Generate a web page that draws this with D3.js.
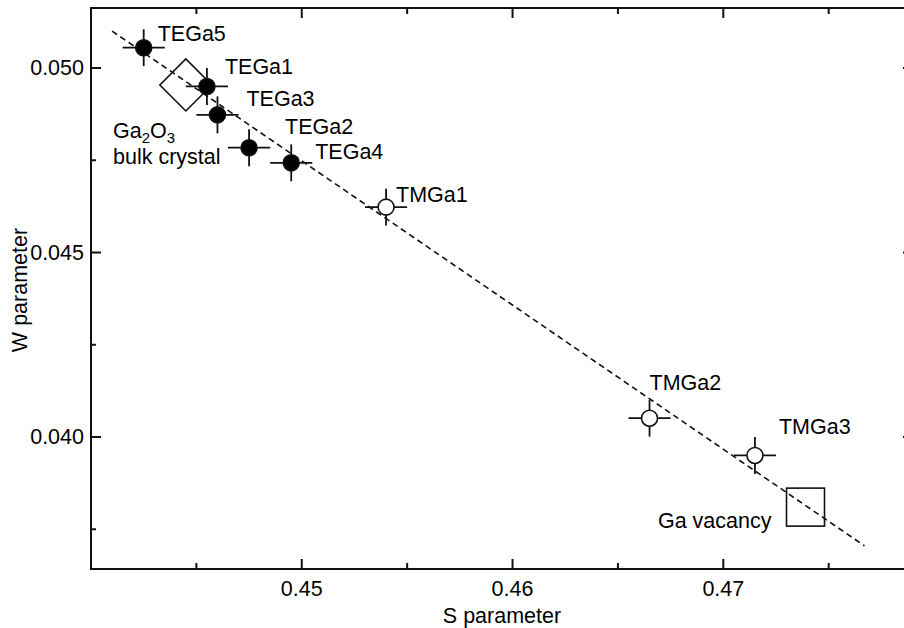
<!DOCTYPE html>
<html>
<head>
<meta charset="utf-8">
<script src="https://cdn.jsdelivr.net/npm/d3@7"></script>
<style>
  body { margin: 0; background: #fff; }
  text { font-family: "Liberation Sans", Arial, sans-serif; fill: #000; }
</style>
</head>
<body>
<svg id="chart" width="904" height="628"></svg>
<script>
// sample names, S and W parameters
const samples = ["TEGa5", "TEGa1", "TEGa3", "TEGa2", "TEGa4", "TMGa1", "TMGa2", "TMGa3"];
const sValues = [0.4425, 0.4455, 0.4460, 0.4475, 0.4495, 0.4540, 0.4665, 0.4715];
const wValues = [0.05055, 0.04950, 0.04873, 0.04784, 0.04743, 0.04623, 0.04051, 0.03950];
const filled  = [true, true, true, true, true, false, false, false];
const sErr = 0.001;
const wErr = 0.0005;

// reference points
const bulkS = 0.4445, bulkW = 0.04954;
const vacancyS = 0.4739, vacancyW = 0.0381;

// fitted dashed line end points
const fitS = [0.4410, 0.4767];
const fitW = [0.0510, 0.03705];

const xTicks = [0.45, 0.46, 0.47];
const yTicks = [0.040, 0.045, 0.050];

const svg = d3.select("#chart");
const mLeft = 91, mRight = 913, mTop = 8, mBottom = 569;

const x = d3.scaleLinear().domain([0.44, 0.479]).range([mLeft, mRight]);
const y = d3.scaleLinear().domain([0.036423, 0.051626]).range([mBottom, mTop]);

const font = 21.5;

// frame
svg.append("rect")
  .attr("x", mLeft).attr("y", mTop)
  .attr("width", mRight - mLeft).attr("height", mBottom - mTop)
  .attr("fill", "none").attr("stroke", "#111").attr("stroke-width", 2);

// ticks (inward, on all four sides)
const xMinor = [0.445, 0.455, 0.465, 0.475];
const yMinor = [0.0375, 0.0425, 0.0475];
const tickG = svg.append("g").attr("stroke", "#111").attr("stroke-width", 2);

function xticks(vals, len) {
  vals.forEach(v => {
    tickG.append("line").attr("x1", x(v)).attr("x2", x(v)).attr("y1", mBottom).attr("y2", mBottom - len);
    tickG.append("line").attr("x1", x(v)).attr("x2", x(v)).attr("y1", mTop).attr("y2", mTop + len);
  });
}
function yticks(vals, len) {
  vals.forEach(v => {
    tickG.append("line").attr("y1", y(v)).attr("y2", y(v)).attr("x1", mLeft).attr("x2", mLeft + len);
    tickG.append("line").attr("y1", y(v)).attr("y2", y(v)).attr("x1", mRight).attr("x2", mRight - len);
  });
}
xticks(xTicks, 10); xticks(xMinor, 6);
yticks(yTicks, 10); yticks(yMinor, 5);

// tick labels
svg.selectAll(".xl").data(xTicks).enter().append("text")
  .attr("x", d => x(d)).attr("y", 596)
  .attr("text-anchor", "middle").attr("font-size", font)
  .text(d => d3.format(".2f")(d));

svg.selectAll(".yl").data(yTicks).enter().append("text")
  .attr("x", 84).attr("y", d => y(d) + 7)
  .attr("text-anchor", "end").attr("font-size", font)
  .text(d => d3.format(".3f")(d));

// axis titles
svg.append("text").attr("x", 502).attr("y", 623)
  .attr("text-anchor", "middle").attr("font-size", font).text("S parameter");
svg.append("text").attr("transform", "translate(27,290) rotate(-90)")
  .attr("text-anchor", "middle").attr("font-size", font).text("W parameter");

// dashed line
svg.append("line")
  .attr("x1", x(fitS[0])).attr("y1", y(fitW[0]))
  .attr("x2", x(fitS[1])).attr("y2", y(fitW[1]))
  .attr("stroke", "#111").attr("stroke-width", 1.6)
  .attr("stroke-dasharray", "6,4");

// Ga2O3 bulk crystal diamond
const dh = 26;
const bx = x(bulkS), by = y(bulkW);
svg.append("path")
  .attr("d", `M${bx - dh},${by}L${bx},${by - dh}L${bx + dh},${by}L${bx},${by + dh}Z`)
  .attr("fill", "none").attr("stroke", "#111").attr("stroke-width", 1.6);

// Ga vacancy square
const sh = 19;
svg.append("rect")
  .attr("x", x(vacancyS) - sh).attr("y", y(vacancyW) - sh)
  .attr("width", 2 * sh).attr("height", 2 * sh)
  .attr("fill", "none").attr("stroke", "#111").attr("stroke-width", 1.6);

// data points with error bars
const pts = samples.map((name, i) => ({ name, s: sValues[i], w: wValues[i], filled: filled[i] }));

const g = svg.selectAll(".pt").data(pts).enter().append("g");
g.append("line")
  .attr("x1", d => x(d.s - sErr)).attr("x2", d => x(d.s + sErr))
  .attr("y1", d => y(d.w)).attr("y2", d => y(d.w));
g.append("line")
  .attr("x1", d => x(d.s)).attr("x2", d => x(d.s))
  .attr("y1", d => y(d.w - wErr)).attr("y2", d => y(d.w + wErr));
g.selectAll("line").attr("stroke", "#111").attr("stroke-width", 1.8);
g.append("circle")
  .attr("cx", d => x(d.s)).attr("cy", d => y(d.w)).attr("r", 8)
  .attr("fill", d => d.filled ? "#000" : "#fff")
  .attr("stroke", "#111").attr("stroke-width", 1.6);

// label offsets from the point (px)
const labelOffsets = {
  TEGa5: [14, -7], TEGa1: [18, -12], TEGa3: [29, -9], TEGa2: [36, -14],
  TEGa4: [24, -4], TMGa1: [10, -5], TMGa2: [0, -28], TMGa3: [24, -21]
};
g.append("text")
  .attr("x", d => x(d.s) + labelOffsets[d.name][0])
  .attr("y", d => y(d.w) + labelOffsets[d.name][1])
  .attr("font-size", font)
  .text(d => d.name);

// reference labels
const t1 = svg.append("text").attr("x", 113).attr("y", 138).attr("font-size", font);
t1.append("tspan").text("Ga");
t1.append("tspan").attr("font-size", 15).attr("dy", 5).text("2");
t1.append("tspan").attr("dy", -5).text("O");
t1.append("tspan").attr("font-size", 15).attr("dy", 5).text("3");
svg.append("text").attr("x", 113).attr("y", 164).attr("font-size", font).text("bulk crystal");

svg.append("text").attr("x", x(vacancyS) - 34).attr("y", y(vacancyW) + 21)
  .attr("text-anchor", "end").attr("font-size", font).text("Ga vacancy");
</script>
</body>
</html>
